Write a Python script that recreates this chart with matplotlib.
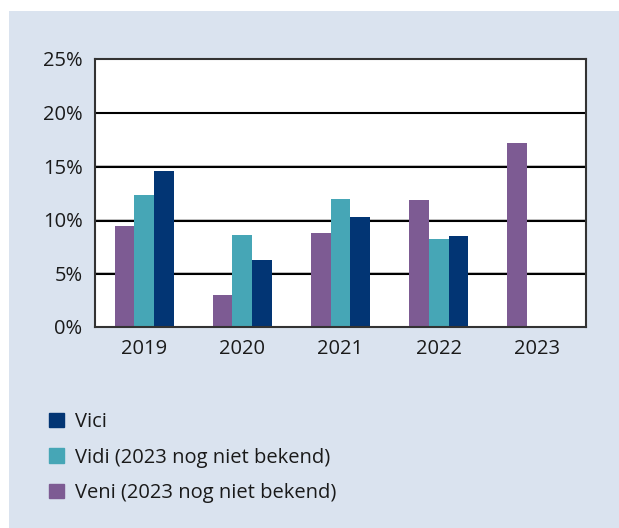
import numpy as np
import matplotlib.pyplot as plt
from matplotlib.patches import Rectangle, Patch

plt.rcParams['font.family'] = ['Open Sans', 'DejaVu Sans']

years = ['2019', '2020', '2021', '2022', '2023']
veni = [9.4, 3.0, 8.75, 11.85, 17.15]
vidi = [12.3, 8.55, 11.9, 8.2, np.nan]
vici = [14.55, 6.25, 10.25, 8.45, np.nan]

c_veni = '#7d5b93'
c_vidi = '#46a6b6'
c_vici = '#023574'
bg = '#dae3ef'

fig = plt.figure(figsize=(6.19, 5.28), dpi=100)
fig.patch.set_facecolor('white')
fig.patches.append(Rectangle((9 / 619, 0), 610 / 619, 517 / 528,
                             transform=fig.transFigure, facecolor=bg,
                             edgecolor='none', zorder=-5))

ax = fig.add_axes([95 / 619, 1 - 327 / 528, 491 / 619, 268 / 528])
ax.set_facecolor('white')

x = np.arange(len(years))
w = 0.2
ax.bar(x - w, veni, w, color=c_veni, zorder=3)
ax.bar(x, vidi, w, color=c_vidi, zorder=3)
ax.bar(x + w, vici, w, color=c_vici, zorder=3)

ax.set_xlim(-0.5, 4.5)
ax.set_ylim(0, 25)
ax.set_yticks([0, 5, 10, 15, 20, 25])
ax.set_yticklabels(['0%', '5%', '10%', '15%', '20%', '25%'])
ax.set_xticks(x)
ax.set_xticklabels(years)
ax.tick_params(length=0, labelsize=14.5, colors='#1a1a1a')
ax.tick_params(axis='y', pad=9)
ax.tick_params(axis='x', pad=9)

for v in [5, 10, 15, 20]:
    ax.axhline(v, color='#bbbbbb', lw=1.2, zorder=1)
    ax.axhline(v - 0.08, color='black', lw=1.5, zorder=2)

for s in ax.spines.values():
    s.set_color('#333333')
    s.set_linewidth(1.5)
    s.set_zorder(4)

handles = [Patch(color=c_vici, label='Vici'),
           Patch(color=c_vidi, label='Vidi (2023 nog niet bekend)'),
           Patch(color=c_veni, label='Veni (2023 nog niet bekend)')]
fig.legend(handles=handles, loc='upper left',
           bbox_to_anchor=(31 / 619, 1 - 394 / 528), frameon=False,
           fontsize=14.5, handlelength=0.75, handleheight=0.75,
           handletextpad=0.55, labelspacing=0.77, labelcolor='#1a1a1a')

fig.savefig('out.png', dpi=100)
